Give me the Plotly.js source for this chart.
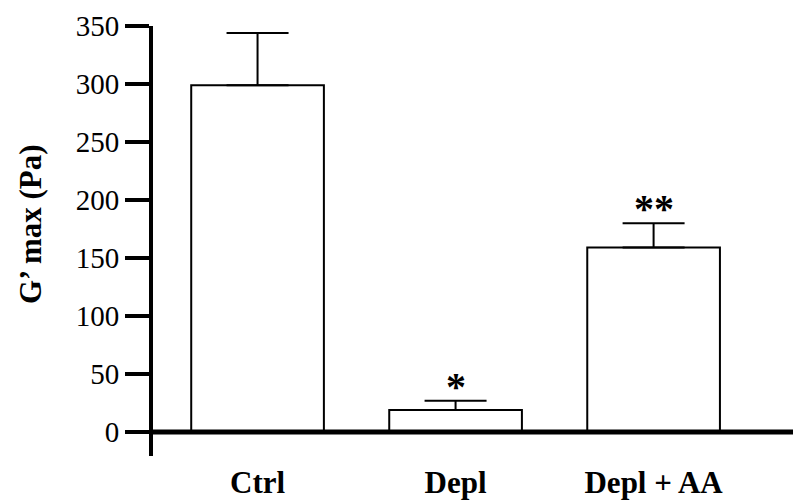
<!DOCTYPE html>
<html>
<head>
<meta charset="utf-8">
<script src="https://cdn.plot.ly/plotly-3.0.1.min.js"></script>
<style>html,body{margin:0;padding:0;background:#fff;}#chart{width:793px;height:502px;}</style>
</head>
<body>
<div id="chart"></div>
<script>
const categories = ["Ctrl", "Depl", "Depl + AA"];
const values = [299, 19, 159];
const errorsUp = [45, 8, 21];
const marks = ["", "*", "**"];
const yTicks = [0, 50, 100, 150, 200, 250, 300, 350];

const serif = "Liberation Serif, Times New Roman, serif";
const L = 153, T = 26, W = 640, H = 430;

const trace = {
  type: "bar",
  x: [0, 1, 2],
  y: values,
  width: 0.67,
  marker: {color: "#ffffff", line: {color: "#000000", width: 2}},
  error_y: {
    type: "data",
    symmetric: false,
    array: errorsUp,
    arrayminus: values.map(() => 0),
    color: "#000000",
    thickness: 2,
    width: 31
  },
  hoverinfo: "none"
};

const annotations = marks.map((m, i) => ({
  x: i, y: values[i] + errorsUp[i], xref: "x", yref: "y",
  text: "<b>" + m + "</b>", showarrow: false, yanchor: "bottom", yshift: -10,
  font: {family: serif, size: 40, color: "#000"}
})).filter((a, i) => marks[i] !== "");

annotations.push({
  x: (30 - L) / W, xref: "paper", xanchor: "center",
  y: 1 - (224 - T) / H, yref: "paper", yanchor: "middle",
  text: "<b>G’ max (Pa)</b>", textangle: -90, showarrow: false,
  font: {family: serif, size: 31, color: "#000"}
});

const layout = {
  width: 793, height: 502,
  margin: {l: L, r: 793 - L - W, t: T, b: 502 - T - H, pad: 0},
  paper_bgcolor: "#fff", plot_bgcolor: "#fff",
  showlegend: false,
  font: {family: serif, color: "#000"},
  xaxis: {
    range: [-0.528, 2.704],
    tickmode: "array", tickvals: [0, 1, 2], ticktext: categories.map(c => "<b>" + c + "</b>"),
    tickfont: {family: serif, size: 31, color: "#000"},
    showline: false, showgrid: false, zeroline: false,
    ticks: "", ticklabelstandoff: 5, fixedrange: true
  },
  yaxis: {
    range: [-20.7, 350],
    tickmode: "array", tickvals: yTicks, ticktext: yTicks.map(String),
    tickfont: {family: serif, size: 29, color: "#000"},
    showline: true, linecolor: "#000", linewidth: 4,
    ticks: "outside", ticklen: 24, tickwidth: 4, tickcolor: "#000",
    showgrid: false, zeroline: false, layer: "above traces", fixedrange: true
  },
  shapes: [{
    type: "line", xref: "paper", yref: "y", x0: 0, x1: 1, y0: 0, y1: 0,
    line: {color: "#000", width: 5}, layer: "above"
  }],
  annotations: annotations
};

Plotly.newPlot("chart", [trace], layout, {displayModeBar: false, staticPlot: true});
</script>
</body>
</html>
